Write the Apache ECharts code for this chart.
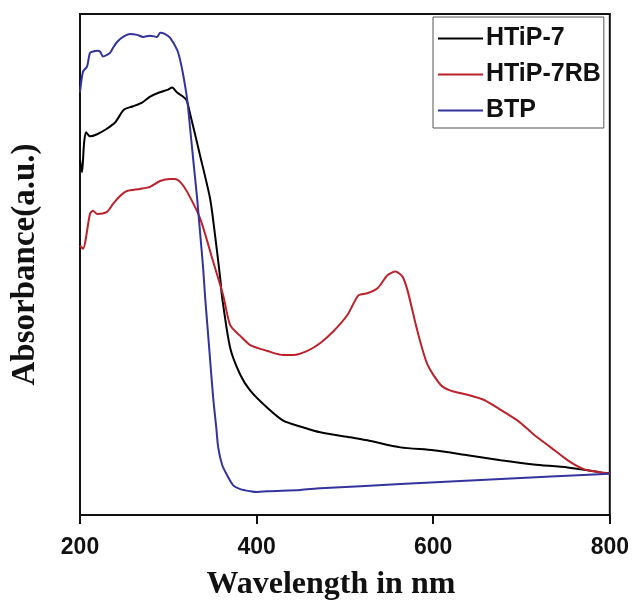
<!DOCTYPE html>
<html>
<head>
<meta charset="utf-8">
<script src="https://cdn.jsdelivr.net/npm/echarts@6/dist/echarts.min.js"></script>
<style>
  html, body { margin: 0; padding: 0; background: #fff; }
  #chart { width: 632px; height: 606px; }
</style>
</head>
<body>
<div id="chart"></div>
<script>
// 数据（读图估计，吸光度为任意单位）
const seriesNames = ["HTiP-7", "HTiP-7RB", "BTP"];
const xTicks = [200, 400, 600, 800];

const htip7Nm = [200, 202.3, 204.5, 206.8, 211.3, 219.3, 229.5, 239.7, 249.9, 260.1, 270.3, 279.4, 289.6, 299.8, 304.3, 310, 320.2, 324.8, 336.1, 347.4, 353, 358.8, 361.1, 370.1, 381.5, 392.8, 412.1, 430.2, 449.5, 472.2, 506.2, 525.5, 562.9, 600.4, 638.9, 676.4, 713.8, 752.4, 789.8, 800];
const htip7Abs = [0.852, 0.821, 0.888, 0.917, 0.907, 0.912, 0.924, 0.940, 0.971, 0.979, 0.988, 1.002, 1.012, 1.019, 1.024, 1.012, 0.995, 0.960, 0.860, 0.757, 0.669, 0.567, 0.519, 0.400, 0.336, 0.298, 0.257, 0.226, 0.212, 0.198, 0.186, 0.179, 0.162, 0.155, 0.143, 0.131, 0.121, 0.114, 0.102, 0.100];

const htip7rbNm = [200, 203.4, 211.3, 214.7, 219.3, 230.6, 237.4, 245.4, 253.3, 268.1, 279.4, 290.7, 302.1, 307.7, 313.4, 321.4, 336.1, 350.8, 362.2, 370.1, 381.5, 392.8, 412.1, 430.2, 441.6, 457.5, 472.2, 487, 502.8, 515.3, 525.5, 536.9, 548.2, 557.3, 565.2, 570.9, 582.2, 593.6, 608.3, 619.7, 638.9, 657.1, 676.4, 695.7, 713.8, 733.1, 752.4, 770.5, 789.8, 800];
const htip7rbAbs = [0.645, 0.638, 0.721, 0.729, 0.721, 0.726, 0.745, 0.764, 0.776, 0.781, 0.786, 0.800, 0.805, 0.805, 0.798, 0.774, 0.710, 0.607, 0.526, 0.455, 0.429, 0.407, 0.393, 0.383, 0.383, 0.393, 0.412, 0.440, 0.479, 0.526, 0.531, 0.543, 0.574, 0.583, 0.571, 0.538, 0.440, 0.360, 0.312, 0.298, 0.288, 0.276, 0.252, 0.226, 0.193, 0.162, 0.131, 0.110, 0.102, 0.100];

const btpNm = [200, 203.4, 207.9, 211.3, 214.7, 219.3, 222.7, 226.1, 230.6, 234, 237.4, 242, 248.8, 256.7, 264.6, 271.5, 279.4, 287.3, 290.7, 296.4, 302.1, 310, 313.4, 316.8, 321.4, 324.8, 328.2, 332.7, 336.1, 339.5, 341.8, 346.3, 350.8, 354.3, 356.5, 361.1, 366.7, 373.5, 381.5, 392.8, 400.8, 412.1, 449.5, 472.2, 562.9, 676.4, 800];
const btpAbs = [1.012, 1.062, 1.074, 1.107, 1.110, 1.112, 1.110, 1.098, 1.102, 1.107, 1.119, 1.133, 1.145, 1.152, 1.150, 1.145, 1.148, 1.145, 1.155, 1.152, 1.143, 1.114, 1.090, 1.055, 0.995, 0.924, 0.852, 0.757, 0.674, 0.590, 0.519, 0.400, 0.281, 0.210, 0.162, 0.119, 0.095, 0.071, 0.062, 0.057, 0.055, 0.057, 0.060, 0.064, 0.074, 0.086, 0.099];

const colors = ["#000000", "#bb222b", "#33339c"];

function pairs(xs, ys) {
  return xs.map((x, i) => [x, ys[i]]);
}

const myChart = echarts.init(document.getElementById("chart"));
myChart.setOption({
  animation: false,
  color: colors,
  grid: {
    left: 80,
    right: 22,
    top: 14,
    bottom: 88,
    show: true,
    borderColor: "#111",
    borderWidth: 2,
    containLabel: false
  },
  legend: {
    orient: "vertical",
    left: 433,
    top: 17,
    padding: [9, 3, 5, 5],
    itemGap: 11,
    itemWidth: 45,
    itemHeight: 2,
    icon: "rect",
    borderColor: "#555",
    borderWidth: 1,
    backgroundColor: "#fff",
    textStyle: {
      fontFamily: "Liberation Sans",
      fontWeight: "bold",
      fontSize: 25,
      color: "#111",
      padding: [0, 0, 0, -2]
    },
    data: seriesNames
  },
  xAxis: {
    type: "value",
    min: xTicks[0],
    max: xTicks[xTicks.length - 1],
    interval: 200,
    name: "Wavelength in nm",
    nameLocation: "middle",
    nameGap: 54,
    nameTextStyle: {
      fontFamily: "Liberation Serif",
      fontWeight: "bold",
      fontSize: 32,
      color: "#111",
      padding: [0, 28, 0, 0]
    },
    axisLine: { lineStyle: { color: "#111", width: 2 } },
    axisTick: { show: true, inside: false, length: 9, lineStyle: { color: "#111", width: 2 } },
    axisLabel: {
      margin: 21,
      fontFamily: "Liberation Sans",
      fontWeight: "bold",
      fontSize: 23,
      color: "#111"
    },
    splitLine: { show: false }
  },
  yAxis: {
    type: "value",
    min: 0,
    max: 1.2,
    name: "Absorbance(a.u.)",
    nameLocation: "middle",
    nameGap: 38,
    nameTextStyle: {
      fontFamily: "Liberation Serif",
      fontWeight: "bold",
      fontSize: 33,
      color: "#111"
    },
    axisLine: { show: true, lineStyle: { color: "#111", width: 2 } },
    axisTick: { show: false },
    axisLabel: { show: false },
    splitLine: { show: false }
  },
  series: [
    { name: seriesNames[0], data: pairs(htip7Nm, htip7Abs) },
    { name: seriesNames[1], data: pairs(htip7rbNm, htip7rbAbs) },
    { name: seriesNames[2], data: pairs(btpNm, btpAbs) }
  ].map(s => ({
    name: s.name,
    type: "line",
    data: s.data,
    showSymbol: false,
    smooth: 0.25,
    lineStyle: { width: 2 }
  }))
});
</script>
</body>
</html>
